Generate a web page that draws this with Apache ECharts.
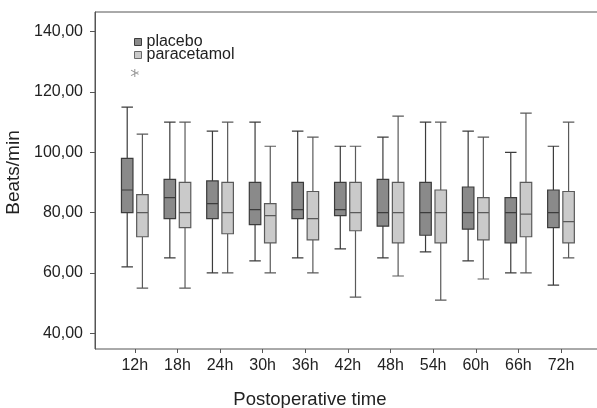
<!DOCTYPE html>
<html>
<head>
<meta charset="utf-8">
<title>Heart rate boxplot</title>
<script src="https://cdn.jsdelivr.net/npm/echarts@6/dist/echarts.min.js"></script>
<style>
  html, body { margin: 0; padding: 0; background: #fff; }
  #chart { width: 597px; height: 408px; }
</style>
</head>
<body>
<div id="chart"></div>
<script>
// time points
var hours = ['12h', '18h', '24h', '30h', '36h', '42h', '48h', '54h', '60h', '66h', '72h'];

// [min, Q1, median, Q3, max] per time point
var placebo = [
  [62, 80, 87.5, 98, 115],
  [65, 78, 85, 91, 110],
  [60, 78, 83, 90.5, 107],
  [64, 76, 81, 90, 110],
  [65, 78, 81, 90, 107],
  [68, 79, 81, 90, 102],
  [65, 75.5, 80, 91, 105],
  [67, 72.5, 80, 90, 110],
  [64, 74.5, 80, 88.5, 107],
  [60, 70, 80, 85, 100],
  [56, 75, 80, 87.5, 102]
];
var paracetamol = [
  [55, 72, 80, 86, 106],
  [55, 75, 80, 90, 110],
  [60, 73, 80, 90, 110],
  [60, 70, 79, 83, 102],
  [60, 71, 78, 87, 105],
  [52, 74, 80, 90, 102],
  [59, 70, 80, 90, 112],
  [51, 70, 80, 87.5, 110],
  [58, 71, 80, 85, 105],
  [60, 72, 79.5, 90, 113],
  [65, 70, 77, 87, 110]
];
// extreme value (placebo, 12h)
var extremes = [['12h', 126.3]];

var yTicks = [40, 60, 80, 100, 120, 140];
var yMin = 34.8, yMax = 146.5;

var font = 'Liberation Sans, Arial, sans-serif';
var chart = echarts.init(document.getElementById('chart'));

// plot box, and half the distance between the two boxes of a pair
var gTop = 12, gBottom = 59, gLeft = 113.5, gRight = 14.7, shift = 7.6;

function hiddenX(i) {
  return { type: 'category', gridIndex: i, data: hours, show: false };
}
function hiddenY(i) {
  return { type: 'value', gridIndex: i, min: yMin, max: yMax, show: false };
}

var option = {
  animation: false,
  backgroundColor: '#fff',
  textStyle: { fontFamily: font },
  legend: {
    data: [
      { name: 'placebo', itemStyle: { color: '#8a8a8a', borderColor: '#3c3c3c', borderWidth: 1 } },
      { name: 'paracetamol', itemStyle: { color: '#cacaca', borderColor: '#6a6a6a', borderWidth: 1 } }
    ],
    orient: 'vertical',
    left: 134, top: 34, padding: 0,
    icon: 'rect',
    itemWidth: 7, itemHeight: 7,
    itemGap: -3,
    textStyle: { fontSize: 16, color: '#222', fontFamily: font }
  },
  grid: [
    // placebo boxes (shifted left)
    { left: gLeft - shift, right: gRight + shift, top: gTop, bottom: gBottom, outerBoundsMode: 'none' },
    // paracetamol boxes (shifted right)
    { left: gLeft + shift, right: gRight - shift, top: gTop, bottom: gBottom, outerBoundsMode: 'none' },
    // category ticks / labels
    { left: gLeft, right: gRight, top: gTop, bottom: gBottom, outerBoundsMode: 'none' },
    // frame + y axis
    { left: 95, right: -2, top: gTop, bottom: gBottom, outerBoundsMode: 'none',
      show: true, borderColor: '#555', borderWidth: 1, backgroundColor: 'transparent' }
  ],
  xAxis: [
    hiddenX(0),
    hiddenX(1),
    {
      type: 'category', gridIndex: 2, data: hours,
      name: 'Postoperative time', nameLocation: 'middle', nameGap: 41,
      nameTextStyle: { fontSize: 18.5, color: '#222', fontFamily: font, padding: [0, 76, 0, 0] },
      axisLine: { show: false },
      axisTick: { show: true, alignWithLabel: true, length: 4, lineStyle: { color: '#555' } },
      axisLabel: { fontSize: 16, color: '#222', margin: 9, fontFamily: font },
      splitLine: { show: false }
    },
    { type: 'value', gridIndex: 3, show: false }
  ],
  yAxis: [
    hiddenY(0),
    hiddenY(1),
    hiddenY(2),
    {
      type: 'value', gridIndex: 3, min: yMin, max: yMax,
      name: 'Beats/min', nameLocation: 'middle', nameGap: 68,
      nameTextStyle: { fontSize: 19, color: '#222', fontFamily: font, padding: [0, 0, 0, 16] },
      axisLine: { show: true, lineStyle: { color: '#555' } },
      axisTick: { show: true, length: 5, customValues: yTicks, lineStyle: { color: '#555' } },
      axisLabel: {
        customValues: yTicks, fontSize: 16, color: '#222', margin: 12, fontFamily: font,
        formatter: function (v) { return v.toFixed(2).replace('.', ','); }
      },
      splitLine: { show: false }
    }
  ],
  series: [
    {
      name: 'placebo', type: 'boxplot', xAxisIndex: 0, yAxisIndex: 0,
      data: placebo, boxWidth: [11.5, 11.5],
      itemStyle: { color: '#8a8a8a', borderColor: '#3c3c3c', borderWidth: 1.2 }
    },
    {
      name: 'paracetamol', type: 'boxplot', xAxisIndex: 1, yAxisIndex: 1,
      data: paracetamol, boxWidth: [11.5, 11.5],
      itemStyle: { color: '#cacaca', borderColor: '#5a5a5a', borderWidth: 1.2 }
    },
    {
      name: 'extreme', type: 'scatter', xAxisIndex: 2, yAxisIndex: 2,
      data: extremes,
      symbol: 'path://M4.4,0h1.2v10h-1.2z M0.3,2.1l0.6,-1l8.8,5.1l-0.6,1z M0.3,7.9l8.8,-5.1l0.6,1l-8.8,5.1z',
      symbolSize: 8,
      itemStyle: { color: '#7a7a7a' }
    }
  ]
};

chart.setOption(option);
</script>
</body>
</html>
